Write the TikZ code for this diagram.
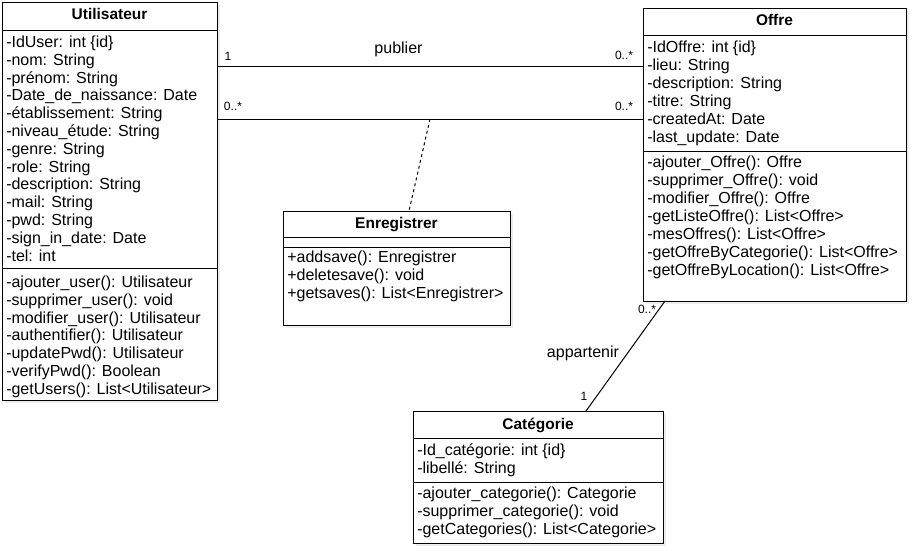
\documentclass[tikz,border=0pt]{standalone}
\usepackage{fontspec}
\setmainfont{Liberation Sans}
% one row of text per foreach item: prefix, x, first row y, row step, items
\newcommand\classrows[5]{%
  \foreach \txt [count=\k] in {#5}{%
    \node[row] (#1-\k) at (#2,{#3+#4*(\k-1)}) {\txt};}}
\begin{document}
\begin{tikzpicture}[x=0.75pt,y=-0.75pt,
  classbox/.style={draw=black, line width=0.75pt, fill=white, anchor=north west,
    inner sep=0pt, outer sep=0pt},
  shade/.style={fill=black!7, draw=none},
  sepline/.style={line width=0.75pt},
  classtitle/.style={font=\fontsize{11.6}{14}\selectfont\bfseries, inner sep=0pt, anchor=mid},
  row/.style={font=\fontsize{12}{14}\selectfont, anchor=mid west, inner sep=0pt},
  mult/.style={font=\fontsize{9}{11}\selectfont, inner sep=0pt, anchor=mid},
  assoc/.style={font=\fontsize{12}{14}\selectfont, inner sep=0pt, anchor=mid},
  link/.style={line width=0.75pt},
  depend/.style={line width=0.75pt, dash pattern=on 2.25pt off 2.25pt}]

\useasboundingbox (0,0) rectangle (912,550);

% ---------- drop shadows ----------
\fill[shade] (5,5) rectangle (220,403);
\fill[shade] (646,11) rectangle (909,304);
\fill[shade] (286,214) rectangle (513,328);
\fill[shade] (416,414) rectangle (666,546);

% ---------- Utilisateur ----------
\node[classbox, minimum width=161.25pt, minimum height=298.5pt] (user) at (2,2) {};
\node[classtitle] (user-title) at (109.5,16) {Utilisateur};
\draw[sepline] (user.west |- 0,30) -- (user.east |- 0,30);
\draw[sepline] (user.west |- 0,268) -- (user.east |- 0,268);
\classrows{ua}{6}{44}{17.8}{-IdUser: int \{id\},-nom: String,-prénom: String,-Date\_de\_naissance: Date,-établissement: String,-niveau\_étude: String,-genre: String,-role: String,-description: String,-mail: String,-pwd: String,-sign\_in\_date: Date,-tel: int}
\classrows{um}{6}{284}{17.8}{-ajouter\_user(): Utilisateur,-supprimer\_user(): void,-modifier\_user(): Utilisateur,-authentifier(): Utilisateur,-updatePwd(): Utilisateur,-verifyPwd(): Boolean,-getUsers(): List<Utilisateur>}

% ---------- Offre ----------
\node[classbox, minimum width=197.25pt, minimum height=219.75pt] (offre) at (643,8) {};
\node[classtitle] (offre-title) at (774.5,22) {Offre};
\draw[sepline] (offre.west |- 0,35) -- (offre.east |- 0,35);
\draw[sepline] (offre.west |- 0,151) -- (offre.east |- 0,151);
\classrows{oa}{647}{49}{18}{-IdOffre: int \{id\},-lieu: String,-description: String,-titre: String,-createdAt: Date,-last\_update: Date}
\classrows{om}{647}{164}{18}{-ajouter\_Offre(): Offre,-supprimer\_Offre(): void,-modifier\_Offre(): Offre,-getListeOffre(): List<Offre>,-mesOffres(): List<Offre>,-getOffreByCategorie(): List<Offre>,-getOffreByLocation(): List<Offre>}

% ---------- Enregistrer ----------
\node[classbox, minimum width=170.25pt, minimum height=85.5pt] (enreg) at (283,211) {};
\node[classtitle] (enreg-title) at (396.5,225) {Enregistrer};
\draw[sepline] (enreg.west |- 0,237) -- (enreg.east |- 0,237);
\draw[sepline] (enreg.west |- 0,247) -- (enreg.east |- 0,247);
\classrows{em}{287}{259}{18}{+addsave(): Enregistrer,+deletesave(): void,+getsaves(): List<Enregistrer>}

% ---------- Catégorie ----------
\node[classbox, minimum width=187.5pt, minimum height=99pt] (cat) at (413,411) {};
\node[classtitle] (cat-title) at (538,426) {Catégorie};
\draw[sepline] (cat.west |- 0,438) -- (cat.east |- 0,438);
\draw[sepline] (cat.west |- 0,482) -- (cat.east |- 0,482);
\classrows{ca}{417}{452}{18}{-Id\_catégorie: int \{id\},-libellé: String}
\classrows{cm}{417}{495}{18}{-ajouter\_categorie(): Categorie,-supprimer\_categorie(): void,-getCategories(): List<Categorie>}

% ---------- associations ----------
\draw[link] (user.east |- 0,66) -- (offre.west |- 0,66);
\node[assoc] (publier) at (398.5,50) {publier};
\node[mult] (pub-1) at (228,57) {1};
\node[mult] (pub-n) at (624,56) {0..*};

\draw[link] (user.east |- 0,119) -- (offre.west |- 0,119);
\node[mult] (reg-u) at (233,107) {0..*};
\node[mult] (reg-o) at (624,107) {0..*};
\coordinate (reg-mid) at (430,119);
\draw[depend] (reg-mid) -- (enreg.north -| 409,0);

\draw[link] (offre.south -| 665,0) -- (cat.north -| 586,0);
\node[mult] (app-n) at (647,310) {0..*};
\node[assoc] (appartenir) at (583,354) {appartenir};
\node[mult] (app-1) at (584,397) {1};
\end{tikzpicture}
\end{document}
